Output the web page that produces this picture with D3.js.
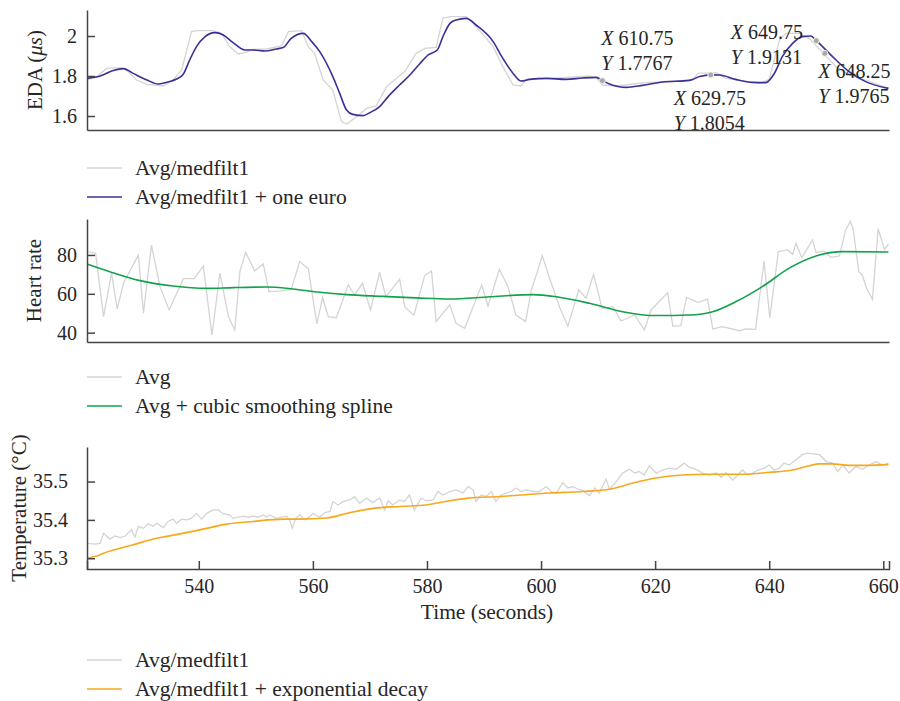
<!DOCTYPE html>
<html>
<head>
<meta charset="utf-8">
<script src="https://cdn.jsdelivr.net/npm/d3@7/dist/d3.min.js"></script>
<style>
    body { margin: 0; background: #fff; }
    svg text { font-family: "Liberation Serif", "DejaVu Serif", serif; fill: #262626; }
</style>
</head>
<body>
<svg id="grafico" width="900" height="701"></svg>
<script>
// Datos: pares [tiempo (s), valor]
var edaMedfilt = [[520.4,1.78],[522.2,1.797],[523.8,1.838],[526.5,1.842],[527.6,1.822],[529.1,1.78],[530.9,1.758],[533.8,1.75],[535.5,1.78],[537.0,1.83],[537.9,1.93],[538.7,2.022],[539.6,2.027],[542.5,2.027],[544.0,2.013],[545.4,1.947],[546.9,1.91],[548.1,1.917],[549.5,1.933],[551.9,1.935],[554.5,1.95],[555.7,2.022],[558.0,2.027],[559.2,1.947],[560.3,1.913],[561.8,1.78],[563.5,1.73],[565.0,1.572],[565.9,1.56],[567.3,1.588],[569.4,1.638],[571.1,1.65],[572.9,1.747],[574.3,1.78],[576.1,1.822],[578.1,1.913],[579.6,1.938],[581.6,1.943],[582.8,2.088],[584.0,2.097],[586.9,2.097],[588.1,2.063],[590.4,1.988],[591.6,1.947],[593.3,1.847],[595.1,1.755],[596.5,1.75],[597.4,1.783],[603.0,1.79],[606.0,1.795],[608.5,1.80],[609.7,1.79],[610.8,1.755],[613.2,1.75],[618.4,1.767],[626.6,1.78],[627.5,1.813],[630.7,1.817],[632.4,1.788],[638.3,1.763],[640.0,1.783],[641.8,1.98],[642.9,2.013],[645.3,2.013],[647.0,1.988],[649.5,1.913],[651.7,1.847],[654.0,1.805],[656.9,1.78],[660.9,1.738]];
var edaOneEuro = [[520.4,1.788],[522.7,1.80],[525.0,1.827],[526.8,1.837],[528.5,1.813],[530.9,1.78],[532.9,1.76],[534.9,1.772],[536.1,1.785],[537.3,1.81],[538.4,1.88],[539.6,1.947],[541.1,1.997],[542.8,2.017],[544.3,2.005],[546.0,1.967],[548.1,1.93],[549.5,1.93],[551.6,1.925],[553.6,1.935],[554.8,1.942],[556.2,1.988],[558.3,2.013],[559.8,1.972],[561.2,1.922],[563.5,1.797],[564.7,1.713],[565.9,1.63],[567.0,1.608],[568.8,1.602],[570.0,1.617],[571.7,1.647],[573.2,1.697],[575.2,1.755],[577.0,1.805],[578.7,1.86],[580.2,1.905],[581.8,1.93],[582.8,1.997],[584.0,2.062],[585.1,2.08],[586.9,2.088],[588.6,2.055],[591.6,1.972],[593.3,1.888],[595.1,1.813],[596.5,1.775],[598.0,1.783],[600.9,1.788],[604.4,1.783],[607.3,1.79],[609.7,1.793],[610.75,1.7767],[612.0,1.76],[614.9,1.743],[617.8,1.753],[621.3,1.77],[626.0,1.778],[627.8,1.797],[629.75,1.8054],[631.3,1.805],[634.1,1.783],[637.1,1.768],[639.4,1.767],[640.9,1.813],[642.3,1.897],[644.1,1.963],[645.8,1.997],[647.3,2.0],[648.25,1.9765],[651.1,1.897],[654.0,1.822],[656.9,1.772],[660.9,1.738]];

var hrAvg = [[520.4,81.7],[521.9,80.9],[523.3,48.3],[524.7,70.6],[525.7,52.2],[526.8,65.4],[529.4,80],[530.3,50.0],[531.7,85.1],[533.2,63.7],[534.8,51.7],[537.3,67.8],[539.2,67.8],[540.8,74.3],[542.3,38.8],[543.7,70.6],[545.2,48.3],[546.3,41.4],[547.2,71.4],[548.2,81.4],[549.8,71.8],[551.3,75.4],[552.3,61.1],[554.5,61.5],[556.2,62.3],[557.7,76.6],[559.2,72.8],[560.7,44.5],[561.7,58.0],[562.7,48.3],[564.1,47.7],[566.2,64.6],[567.3,59.4],[568.7,65.4],[570.1,51.7],[571.7,71.1],[572.8,58.6],[575.2,67.5],[576.1,53.4],[577.7,48.9],[579.6,69.4],[580.8,71.8],[581.6,45.7],[584.0,54.3],[585.1,44.8],[586.6,42.3],[589.6,64.6],[590.7,53.7],[592.7,72.6],[594.2,63.7],[595.6,49.1],[597.3,45.7],[598.3,62.0],[599.4,71.8],[600.2,79.7],[601.5,68.0],[603.2,53.4],[604.7,43.4],[606.6,62.0],[607.9,57.7],[609.2,70.0],[610.7,52.5],[612.6,53.4],[614.0,46.0],[616.4,49.1],[618.1,41.4],[619.3,51.7],[622.2,60.6],[623.1,43.4],[624.5,43.6],[625.5,58.2],[627.5,55.6],[629.2,57.3],[630.1,41.9],[631.8,43.1],[634.8,41.0],[635.9,41.9],[637.6,41.7],[639.1,76.9],[640.1,47.7],[641.6,81.7],[643.2,82.6],[644.1,80.3],[644.7,86.0],[645.7,78.6],[647.6,87.7],[648.2,81.2],[649.6,82.1],[650.8,78.8],[652.3,79.5],[653.4,92.9],[654.2,97.2],[654.7,93.7],[655.7,71.4],[656.3,69.7],[657.2,62.0],[658.1,57.2],[659.1,93.4],[660.2,82.9],[660.9,85.5]];
var hrSpline = [[520.4,75.4],[524.4,71.4],[529.7,66.8],[535.5,64.0],[541.4,62.8],[546.0,63.2],[551.9,63.5],[556.5,62.5],[561.2,60.8],[565.9,59.6],[572.3,58.7],[578.1,57.9],[584.0,57.3],[591.0,58.5],[598.6,59.6],[602.7,58.5],[608.5,55.1],[614.3,50.8],[620.2,48.8],[626.0,49.1],[630.1,50.8],[634.2,56.0],[638.8,63.7],[643.5,73.2],[648.2,79.5],[652.9,81.7],[660.9,81.5]];

var tempMedfilt = [[520.4,35.339],[521.8,35.337],[522.7,35.339],[523.3,35.365],[524.4,35.350],[525.3,35.358],[526.2,35.354],[527.1,35.358],[528.2,35.374],[528.8,35.355],[529.4,35.383],[530.3,35.378],[531.1,35.390],[532.0,35.383],[532.6,35.391],[533.8,35.380],[534.6,35.396],[535.5,35.402],[536.1,35.391],[537.0,35.402],[537.9,35.400],[538.7,35.404],[539.6,35.417],[540.5,35.402],[541.4,35.417],[542.5,35.426],[543.4,35.426],[544.3,35.416],[545.4,35.413],[546.0,35.404],[546.9,35.407],[547.8,35.410],[548.7,35.407],[549.5,35.410],[550.4,35.407],[551.3,35.413],[551.9,35.407],[552.4,35.413],[553.6,35.404],[554.5,35.407],[555.4,35.409],[555.9,35.400],[556.4,35.378],[557.0,35.404],[557.7,35.413],[558.6,35.400],[559.5,35.409],[560.0,35.417],[561.2,35.407],[562.1,35.419],[563.0,35.422],[563.5,35.448],[564.4,35.439],[565.3,35.448],[566.5,35.452],[567.3,35.461],[568.2,35.443],[569.4,35.457],[570.5,35.445],[571.7,35.457],[572.6,35.426],[573.2,35.450],[574.0,35.439],[575.2,35.452],[576.1,35.448],[576.9,35.465],[577.8,35.426],[579.0,35.457],[579.9,35.450],[581.1,35.452],[581.9,35.474],[582.8,35.465],[584.0,35.474],[585.1,35.478],[586.3,35.470],[587.2,35.487],[588.1,35.478],[588.6,35.448],[589.5,35.465],[590.4,35.461],[591.3,35.474],[592.1,35.448],[593.0,35.465],[593.9,35.470],[594.8,35.474],[595.6,35.483],[596.5,35.474],[597.4,35.478],[598.6,35.474],[599.7,35.474],[600.9,35.487],[601.8,35.474],[602.7,35.470],[603.8,35.497],[604.7,35.483],[605.6,35.487],[606.4,35.480],[607.3,35.477],[608.5,35.463],[609.4,35.483],[610.2,35.470],[611.4,35.506],[612.0,35.480],[613.2,35.500],[614.3,35.522],[615.5,35.532],[616.4,35.522],[617.2,35.526],[618.1,35.517],[619.0,35.541],[620.2,35.522],[621.3,35.530],[622.5,35.535],[623.7,35.532],[625.1,35.548],[626.0,35.537],[627.2,35.532],[628.3,35.522],[629.5,35.517],[630.7,35.522],[631.6,35.511],[632.4,35.523],[633.6,35.504],[634.5,35.517],[635.3,35.530],[636.2,35.517],[637.1,35.522],[638.0,35.530],[639.1,35.535],[640.0,35.543],[640.9,35.530],[641.8,35.535],[642.6,35.548],[643.5,35.543],[644.7,35.557],[645.8,35.570],[646.7,35.574],[648.8,35.570],[650.0,35.552],[651.1,35.548],[652.0,35.526],[652.9,35.543],[654.0,35.522],[655.2,35.539],[656.4,35.532],[657.5,35.543],[658.7,35.552],[659.9,35.543],[660.9,35.548]];
var tempDecay = [[520.4,35.300],[522.1,35.306],[523.3,35.313],[528.5,35.335],[532.6,35.352],[534.4,35.357],[540.2,35.374],[544.9,35.389],[549.5,35.396],[554.8,35.402],[557.7,35.402],[562.4,35.405],[566.5,35.419],[570.6,35.430],[575.2,35.435],[579.9,35.439],[584.0,35.450],[586.9,35.456],[592.7,35.461],[601.5,35.470],[607.3,35.474],[612.0,35.480],[616.1,35.496],[620.2,35.509],[624.8,35.517],[629.5,35.519],[635.3,35.519],[640.0,35.524],[644.1,35.530],[647.0,35.541],[648.8,35.546],[651.1,35.546],[654.0,35.542],[657.0,35.542],[660.9,35.544]];

// Ticks y etiquetas
var xTicks = [540, 560, 580, 600, 620, 640, 660];
var edaTicks = [1.6, 1.8, 2];
var hrTicks = [40, 60, 80];
var tempTicks = [35.3, 35.4, 35.5];
var leyendaEda = ["Avg/medfilt1", "Avg/medfilt1 + one euro"];
var leyendaHr = ["Avg", "Avg + cubic smoothing spline"];
var leyendaTemp = ["Avg/medfilt1", "Avg/medfilt1 + exponential decay"];

// Datatips del panel EDA
var tipsX = [610.75, 629.75, 649.75, 648.25];
var tipsY = [1.7767, 1.8054, 1.9131, 1.9765];

var gris = "#d4d4d4";
var ejeColor = "#444";

var svg = d3.select("#grafico");
var x = d3.scaleLinear().domain([520.4, 661]).range([87, 889]);

var paneles = [
    {top: 10, bottom: 130, dominio: [1.53, 2.13], ticks: edaTicks, pad: 10, labelX: 35,
     crudo: edaMedfilt, suave: edaOneEuro, color: "#3a3198", leyenda: leyendaEda, leyY: 168},
    {top: 219, bottom: 342, dominio: [35.2, 98.5], ticks: hrTicks, pad: 10, labelX: 33,
     crudo: hrAvg, suave: hrSpline, color: "#12a24c", leyenda: leyendaHr, leyY: 377},
    {top: 447, bottom: 569, dominio: [35.272, 35.59], ticks: tempTicks, pad: 19, labelX: 20,
     crudo: tempMedfilt, suave: tempDecay, color: "#f7a81b", leyenda: leyendaTemp, leyY: 660}
];

paneles.forEach(function(p, i) {
    var y = d3.scaleLinear().domain(p.dominio).range([p.bottom, p.top]);
    p.y = y;

    // Líneas
    var linea = d3.line().x(d => x(d[0])).y(d => y(d[1]));
    svg.append("path")
        .datum(p.crudo)
        .attr("fill", "none")
        .attr("stroke", gris)
        .attr("stroke-width", 1.3)
        .attr("d", linea);
    svg.append("path")
        .datum(p.suave)
        .attr("fill", "none")
        .attr("stroke", p.color)
        .attr("stroke-width", 1.6)
        .attr("d", linea.curve(d3.curveMonotoneX));

    // Eje Y con ticks hacia dentro
    var ejeY = svg.append("g")
        .attr("transform", "translate(87,0)")
        .call(d3.axisLeft(y).tickValues(p.ticks).tickSize(-8).tickSizeOuter(0).tickPadding(p.pad)
            .tickFormat(d3.format("")));
    // Eje X
    var ejeX = d3.axisBottom(x).tickSizeOuter(0);
    if (i == 2) {
        ejeX.tickValues(xTicks).tickSize(-8).tickPadding(10);
    } else {
        ejeX.tickValues([]);
    }
    var gx = svg.append("g")
        .attr("transform", "translate(0," + p.bottom + ")")
        .call(ejeX);

    [ejeY, gx].forEach(function(g) {
        g.selectAll("path, line").attr("stroke", ejeColor).attr("stroke-width", 1.5);
        g.selectAll("text").style("font-size", "20px").attr("fill", "#262626");
    });

    // Leyenda
    p.leyenda.forEach(function(nombre, j) {
        var ly = p.leyY + j * 29;
        svg.append("line")
            .attr("x1", 87).attr("x2", 122)
            .attr("y1", ly).attr("y2", ly)
            .attr("stroke", j == 0 ? gris : p.color)
            .attr("stroke-width", 1.5);
        svg.append("text")
            .attr("x", 135).attr("y", ly)
            .attr("dominant-baseline", "central")
            .style("font-size", "21.5px")
            .text(nombre);
    });
});

// Títulos de los ejes Y
function tituloY(p, partes) {
    var t = svg.append("text")
        .attr("transform", "translate(" + p.labelX + "," + (p.top + p.bottom) / 2 + ") rotate(-90)")
        .attr("text-anchor", "middle")
        .attr("dominant-baseline", "central")
        .style("font-size", "21px");
    partes.forEach(function(s) {
        t.append("tspan").style("font-style", s[1] ? "italic" : "normal").text(s[0]);
    });
}
tituloY(paneles[0], [["EDA (", false], ["\u03bcs", true], [")", false]]);
tituloY({labelX: 34, top: 219, bottom: 342}, [["Heart rate", false]]);
tituloY({labelX: 19, top: 447, bottom: 569}, [["Temperature (\u00b0C)", false]]);

svg.append("text")
    .attr("x", 487).attr("y", 612)
    .attr("text-anchor", "middle")
    .attr("dominant-baseline", "central")
    .style("font-size", "21.5px")
    .text("Time (seconds)");

// Datatips
var yEda = paneles[0].y;
var desplaz = [[-1, -36], [-37, 30], [-94, -14], [2, 37]];
tipsX.forEach(function(tx, k) {
    var cx = x(tx), cy = yEda(tipsY[k]);
    svg.append("circle")
        .attr("cx", cx).attr("cy", cy).attr("r", 3)
        .attr("fill", "#a9a9a9")
        .attr("stroke", "#f4f4e4")
        .attr("stroke-width", 1);
    [["X", tx.toFixed(2)], ["Y", tipsY[k].toFixed(4)]].forEach(function(par, m) {
        var t = svg.append("text")
            .attr("x", cx + desplaz[k][0])
            .attr("y", cy + desplaz[k][1] + m * 25)
            .style("font-size", "20px");
        t.append("tspan").style("font-style", "italic").text(par[0]);
        t.append("tspan").text(" " + par[1]);
    });
});
</script>
</body>
</html>
